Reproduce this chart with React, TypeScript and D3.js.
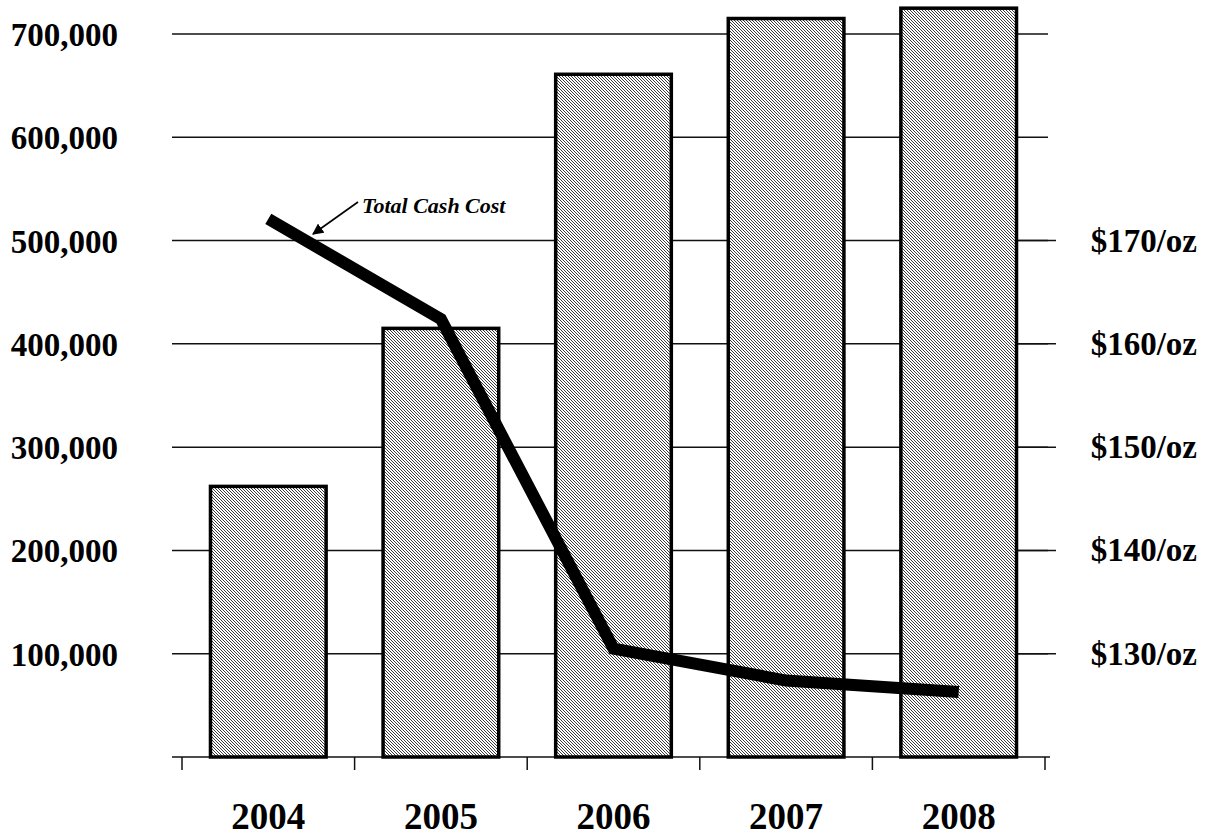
import React from "react";
import * as d3 from "d3";

const years = ["2004", "2005", "2006", "2007", "2008"];
const production = [262000, 415000, 661000, 715000, 725000];
const cashCost = [172.1, 162.4, 130.5, 127.4, 126.3];
const leftTicks = [100000, 200000, 300000, 400000, 500000, 600000, 700000];
const rightTicks = [130, 140, 150, 160, 170];
const annotationText = "Total Cash Cost";

const W = 1212;
const H = 839;
const FONT = "'Liberation Serif', 'Times New Roman', Times, serif";

export default function App() {
  const x = d3.scaleBand<string>().domain(years).range([182, 1045]).paddingInner(0.33).paddingOuter(0.165);
  const y = d3.scaleLinear().domain([0, 700000]).range([757, 34]);
  const y2 = d3.scaleLinear().domain([130, 170]).range([y(100000), y(500000)]);
  const fmt = d3.format(",");

  const line = d3
    .line<number>()
    .x((_, i) => (x(years[i]) as number) + x.bandwidth() / 2)
    .y((d) => y2(d));

  const edges = [...years.map((yr) => (x(yr) as number) - (x.step() - x.bandwidth()) / 2), 1045];

  const arrowStart: [number, number] = [358, 202];
  const arrowEnd: [number, number] = [313, 234];

  return (
    <svg
      width={W}
      height={H}
      style={{ position: "absolute", left: 0, top: 0, background: "#fff" }}
      fontFamily={FONT}
    >
      <defs>
        <pattern id="hatch" patternUnits="userSpaceOnUse" width={3} height={3}>
          <rect width={3} height={3} fill="#fff" />
          <path d="M0,0 L3,3 M-1,2 L1,4 M2,-1 L4,1" stroke="#3a3a3a" strokeWidth={1} />
        </pattern>
        <marker id="arrow" viewBox="0 0 10 10" refX={9} refY={5} markerWidth={7} markerHeight={7} orient="auto">
          <path d="M0,0 L10,5 L0,10 z" fill="#000" />
        </marker>
      </defs>

      {leftTicks.map((t) => (
        <line key={t} x1={172} x2={1048} y1={y(t)} y2={y(t)} stroke="#111" strokeWidth={1.5} />
      ))}
      {rightTicks.map((t) => (
        <line key={"r" + t} x1={1016} x2={1056} y1={y2(t)} y2={y2(t)} stroke="#111" strokeWidth={1.5} />
      ))}

      <line x1={172} x2={1050} y1={y(0)} y2={y(0)} stroke="#111" strokeWidth={1.5} />
      {edges.map((e, i) => (
        <line key={"t" + i} x1={e} x2={e} y1={y(0)} y2={y(0) + 13} stroke="#111" strokeWidth={1.5} />
      ))}

      {production.map((v, i) => (
        <rect
          key={years[i]}
          x={x(years[i])}
          y={y(v)}
          width={x.bandwidth()}
          height={y(0) - y(v)}
          fill="url(#hatch)"
          stroke="#000"
          strokeWidth={3.5}
        />
      ))}

      <path d={line(cashCost) ?? ""} fill="none" stroke="#000" strokeWidth={12} strokeLinejoin="miter" strokeLinecap="butt" />

      <line
        x1={arrowStart[0]}
        y1={arrowStart[1]}
        x2={arrowEnd[0]}
        y2={arrowEnd[1]}
        stroke="#000"
        strokeWidth={1.6}
        markerEnd="url(#arrow)"
      />
      <text x={362} y={213} fontSize={22} fontWeight="bold" fontStyle="italic" fill="#000">
        {annotationText}
      </text>

      {leftTicks.map((t) => (
        <text key={"l" + t} x={118} y={y(t) + 12} textAnchor="end" fontSize={33} fontWeight="bold" fill="#000">
          {fmt(t)}
        </text>
      ))}

      {rightTicks.map((t) => (
        <text key={"rl" + t} x={1197} y={y2(t) + 11} textAnchor="end" fontSize={33} fontWeight="bold" fill="#000">
          {`$${t}/oz`}
        </text>
      ))}

      {years.map((yr) => (
        <text
          key={"x" + yr}
          x={(x(yr) as number) + x.bandwidth() / 2}
          y={829}
          textAnchor="middle"
          fontSize={37}
          fontWeight="bold"
          fill="#000"
        >
          {yr}
        </text>
      ))}
    </svg>
  );
}
